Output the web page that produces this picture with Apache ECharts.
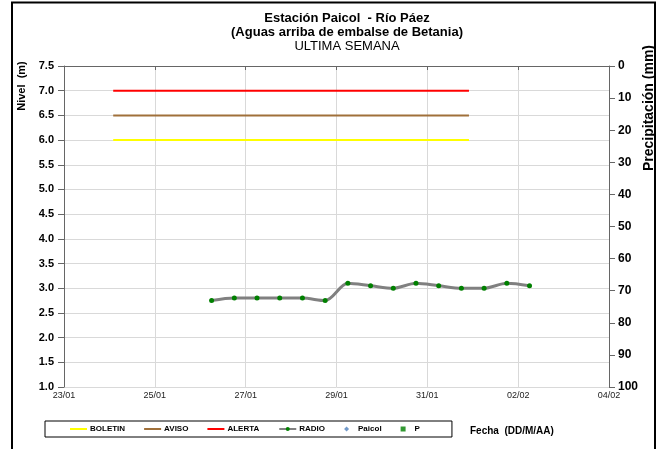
<!DOCTYPE html>
<html>
<head>
<meta charset="utf-8">
<script src="https://cdn.jsdelivr.net/npm/echarts@6/dist/echarts.min.js"></script>
<style>html,body{margin:0;padding:0;background:#fff}#c{width:663px;height:449px}</style>
</head>
<body>
<div id="c"></div>
<script>
// ---- data ----
const tickLabels = ['23/01', '25/01', '27/01', '29/01', '31/01', '02/02', '04/02'];
const radioTimes = ['26/01 06:00', '26/01 18:00', '27/01 06:00', '27/01 18:00', '28/01 06:00',
  '28/01 18:00', '29/01 06:00', '29/01 18:00', '30/01 06:00', '30/01 18:00', '31/01 06:00',
  '31/01 18:00', '01/02 06:00', '01/02 18:00', '02/02 06:00'];
const radioLevels = [2.75, 2.80, 2.80, 2.80, 2.80, 2.75, 3.10, 3.05, 3.00, 3.10, 3.05, 3.00, 3.00, 3.10, 3.05];
const thresholdTimes = ['24/01 02:00', '31/01 22:00'];
const boletinLevel = 6.0;
const avisoLevel = 6.5;
const alertaLevel = 7.0;
const paicolData = [];
const precipData = [];

function toDay(s) {
  const parts = s.split(' ');
  const dm = parts[0].split('/').map(Number);
  const hm = (parts[1] || '00:00').split(':').map(Number);
  const dayIdx = dm[1] === 1 ? dm[0] - 23 : dm[0] + 31 - 23;
  return dayIdx + (hm[0] + hm[1] / 60) / 24;
}
const radioSeries = radioTimes.map((t, i) => [toDay(t), radioLevels[i]]);
const thr = v => thresholdTimes.map(t => [toDay(t), v]);

const FF = 'Liberation Sans, Arial, sans-serif';
const LINE_ICON = 'path://M0,0H17V2H0Z';
const chart = echarts.init(document.getElementById('c'));
chart.setOption({
  animation: false,
  backgroundColor: '#fff',
  title: {
    text: '{b|Estación Paicol  - Río Páez}\n{b|(Aguas arriba de embalse de Betania)}\n{n|ULTIMA SEMANA}',
    left: 342, top: 6, textAlign: 'center',
    textStyle: {
      fontFamily: FF, lineHeight: 14,
      rich: {
        b: { fontFamily: FF, fontSize: 13, fontWeight: 'bold', color: '#000', lineHeight: 14 },
        n: { fontFamily: FF, fontSize: 13, fontWeight: 'normal', color: '#000', lineHeight: 14 }
      }
    }
  },
  grid: { left: 64, right: 54, top: 66, bottom: 62 },
  legend: {
    left: 45, top: 421,
    padding: [4, 32, 4, 25],
    borderColor: '#000', borderWidth: 1,
    itemWidth: 17, itemHeight: 5, itemGap: 19,
    textStyle: { fontFamily: FF, fontSize: 8, fontWeight: 'bold', color: '#000', padding: [0, 0, 0, -2] },
    data: [
      { name: 'BOLETIN', icon: LINE_ICON, itemStyle: { borderWidth: 0 } },
      { name: 'AVISO', icon: LINE_ICON, itemStyle: { borderWidth: 0 } },
      { name: 'ALERTA', icon: LINE_ICON, itemStyle: { borderWidth: 0 } },
      { name: 'RADIO', textStyle: { padding: [0, 4, 0, -2] } },
      { name: 'Paicol', icon: 'path://M1,0L2,1L1,2L0,1Z', textStyle: { padding: [0, 7, 0, -2] } },
      { name: 'P', icon: 'path://M0,0H1V1H0Z' }
    ]
  },
  xAxis: {
    type: 'value', min: 0, max: 12, interval: 2,
    axisLine: { lineStyle: { color: '#666' } },
    axisTick: { length: 4, lineStyle: { color: '#666' } },
    axisLabel: { fontFamily: FF, fontSize: 9, color: '#222', margin: 4,
      formatter: v => tickLabels[Math.round(v / 2)] },
    splitLine: { show: true, lineStyle: { color: '#d9d9d9', width: 1 } }
  },
  yAxis: [
    {
      type: 'value', min: 1, max: 7.5, interval: 0.5,
      axisLine: { show: true, lineStyle: { color: '#666' } },
      axisTick: { show: true, length: 6, lineStyle: { color: '#666' } },
      axisLabel: { fontFamily: FF, fontSize: 11, fontWeight: 'bold', color: '#000', margin: 10,
        formatter: v => v.toFixed(1) },
      splitLine: { show: true, lineStyle: { color: '#d9d9d9', width: 1 } }
    },
    {
      type: 'value', min: 0, max: 100, interval: 10, inverse: true, position: 'right',
      axisLine: { show: true, lineStyle: { color: '#666' } },
      axisTick: { show: true, length: 6, lineStyle: { color: '#666' } },
      axisLabel: { fontFamily: FF, fontSize: 12, fontWeight: 'bold', color: '#000', margin: 9 },
      splitLine: { show: false }
    }
  ],
  series: [
    { name: 'BOLETIN', type: 'line', data: thr(boletinLevel), symbol: 'none', color: '#ffff00',
      lineStyle: { width: 2, color: '#ffff00' } },
    { name: 'AVISO', type: 'line', data: thr(avisoLevel), symbol: 'none', color: '#a0703a',
      lineStyle: { width: 2, color: '#a0703a' } },
    { name: 'ALERTA', type: 'line', data: thr(alertaLevel), symbol: 'none', color: '#ff0000',
      lineStyle: { width: 2, color: '#ff0000' } },
    { name: 'RADIO', type: 'line', data: radioSeries, smooth: 0.3, symbol: 'circle', symbolSize: 5,
      color: '#008000', itemStyle: { color: '#008000' },
      lineStyle: { width: 3, color: '#808080' } },
    { name: 'Paicol', type: 'scatter', data: paicolData, symbol: 'diamond', symbolSize: 5,
      itemStyle: { color: '#4f81bd' } },
    { name: 'P', type: 'scatter', yAxisIndex: 1, data: precipData, symbol: 'rect', symbolSize: 3,
      itemStyle: { color: '#008000' } }
  ],
  graphic: [
    { type: 'rect', shape: { x: 12, y: 2.5, width: 643, height: 500 },
      style: { fill: 'none', stroke: '#000', lineWidth: 2 }, silent: true },
    { type: 'text', x: 22, y: 86, rotation: Math.PI / 2,
      style: { text: 'Nivel  (m)', fontFamily: FF, fontSize: 11, fontWeight: 'bold', fill: '#000',
        textAlign: 'center', textVerticalAlign: 'middle' } },
    { type: 'text', x: 649, y: 108, rotation: Math.PI / 2,
      style: { text: 'Precipitación (mm)', fontFamily: FF, fontSize: 14, fontWeight: 'bold', fill: '#000',
        textAlign: 'center', textVerticalAlign: 'middle' } },
    { type: 'text', x: 470, y: 431,
      style: { text: 'Fecha  (DD/M/AA)', fontFamily: FF, fontSize: 10, fontWeight: 'bold', fill: '#000',
        textAlign: 'left', textVerticalAlign: 'middle' } }
  ]
});
</script>
</body>
</html>
